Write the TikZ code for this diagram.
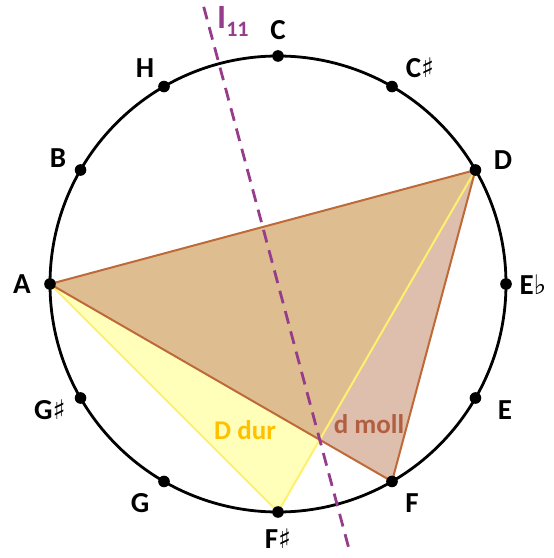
\documentclass[tikz,border=0pt]{standalone}
\usepackage{fontspec}
\setmainfont{Carlito}
\newfontfamily\symfont{DejaVu Sans}
\definecolor{durfill}{RGB}{255,255,185}
\definecolor{durline}{RGB}{255,240,110}
\definecolor{durtext}{RGB}{255,192,0}
\definecolor{mollfill}{RGB}{200,147,117}
\definecolor{mollline}{RGB}{190,105,55}
\definecolor{molltext}{RGB}{178,95,65}
\definecolor{axis}{RGB}{150,60,140}
\newcommand{\shp}{{\symfont\fontsize{27}{27}\selectfont\bfseries ♯}}
\newcommand{\flt}{{\symfont\fontsize{27}{27}\selectfont ♭}}
\tikzset{
  pc/.style={circle,fill=black,inner sep=0pt,minimum size=11pt},
  notelabel/.style={font=\fontsize{29}{29}\selectfont\bfseries,inner sep=0pt},
  chordlabel/.style={font=\fontsize{27}{27}\selectfont\bfseries,inner sep=0pt}
}
\begin{document}
\begin{tikzpicture}[x=1pt,y=1pt]
\useasboundingbox (0,0) rectangle (554,558);
\begin{scope}[shift={(278,274)}]
  % pitch-class points
  \coordinate (O) at (0,0);
  \node[pc] (C) at (90:228) {};
  \node[pc] (Cis) at (60:228) {};
  \node[pc] (D) at (30:228) {};
  \node[pc] (Es) at (0:228) {};
  \node[pc] (E) at (-30:228) {};
  \node[pc] (F) at (-60:228) {};
  \node[pc] (Fis) at (-90:228) {};
  \node[pc] (G) at (-120:228) {};
  \node[pc] (Gis) at (-150:228) {};
  \node[pc] (A) at (180:228) {};
  \node[pc] (B) at (150:228) {};
  \node[pc] (H) at (120:228) {};
  % triangles
  \fill[durfill] (D.center) -- (Fis.center) -- (A.center) -- cycle;
  \fill[mollfill,fill opacity=0.6] (D.center) -- (F.center) -- (A.center) -- cycle;
  \draw[durline,line width=2pt,line join=round] (D.center) -- (Fis.center) -- (A.center);
  \draw[mollline,line width=2pt,line join=round] (A.center) -- (D.center) -- (F.center) -- cycle;
  % circle
  \draw[line width=2.8pt] (O) circle (228);
  % dots on top
  \foreach \n in {C,Cis,D,Es,E,F,Fis,G,Gis,A,B,H} \fill (\n) circle (5.8);
  % axis I11
  \coordinate (Itop) at (105:287);
  \coordinate (Ibot) at (-75:278);
  \draw[axis,line width=2.8pt,dash pattern=on 13pt off 8pt] (Itop) -- (Ibot);
  \node[text=axis,font=\fontsize{34}{34}\selectfont\bfseries,inner sep=0pt,anchor=west] (Ilab) at (-61,263) {I\raisebox{-8pt}{\fontsize{22}{22}\selectfont 11}};
  % note labels
  \node[notelabel] (lC) at (0,254) {C};
  \node[notelabel] (lCis) at (142,216) {C\shp};
  \node[notelabel] (lD) at (225,124) {D};
  \node[notelabel] (lEs) at (255,-1) {E\flt};
  \node[notelabel] (lE) at (227,-126) {E};
  \node[notelabel] (lF) at (134,-219) {F};
  \node[notelabel] (lFis) at (0,-255) {F\shp};
  \node[notelabel] (lG) at (-138,-219) {G};
  \node[notelabel] (lGis) at (-228,-126) {G\shp};
  \node[notelabel] (lA) at (-256,0) {A};
  \node[notelabel] (lB) at (-220,126) {B};
  \node[notelabel] (lH) at (-133,216) {H};
  % chord labels
  \node[chordlabel,text=durtext] (dur) at (-33,-146) {D dur};
  \node[chordlabel,text=molltext] (moll) at (91,-140) {d moll};
\end{scope}
\end{tikzpicture}
\end{document}
